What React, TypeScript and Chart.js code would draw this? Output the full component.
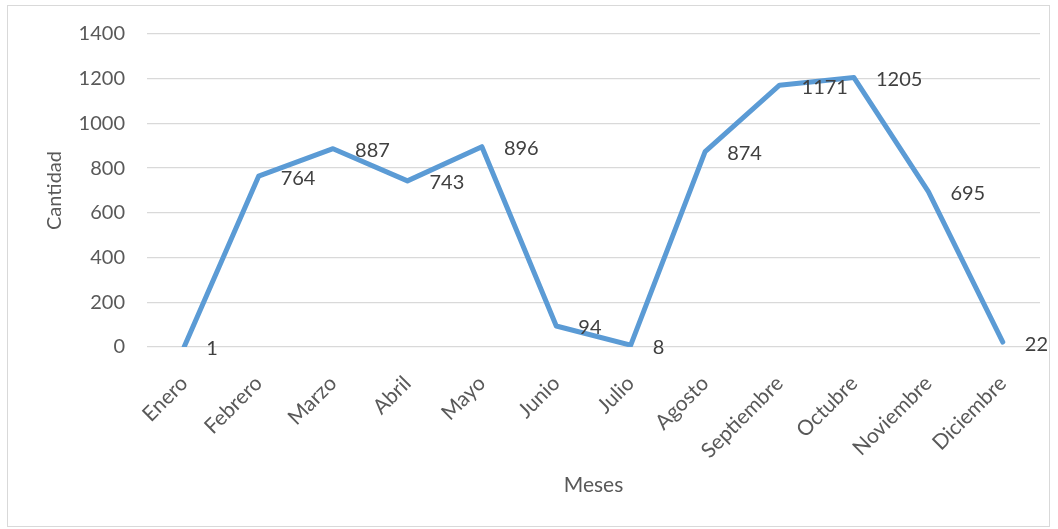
import React, { useEffect, useRef } from "react";
import { Chart, registerables } from "chart.js";

Chart.register(...registerables);

const months = [
  "Enero",
  "Febrero",
  "Marzo",
  "Abril",
  "Mayo",
  "Junio",
  "Julio",
  "Agosto",
  "Septiembre",
  "Octubre",
  "Noviembre",
  "Diciembre",
];
const values = [1, 764, 887, 743, 896, 94, 8, 874, 1171, 1205, 695, 22];
const yMin = 0;
const yMax = 1400;
const yStep = 200;
const yTitle = "Cantidad";
const xTitle = "Meses";

const FONT = "Lato, 'Open Sans', sans-serif";
const LABEL_DX = 22;

const dataLabelPlugin = {
  id: "dataLabels",
  afterDatasetsDraw(chart: any) {
    const ctx = chart.ctx;
    const meta = chart.getDatasetMeta(0);
    ctx.save();
    ctx.font = `20px ${FONT}`;
    ctx.fillStyle = "#404040";
    ctx.textAlign = "left";
    ctx.textBaseline = "middle";
    meta.data.forEach((pt: any, i: number) => {
      ctx.fillText(String(values[i]), pt.x + LABEL_DX, pt.y + 2);
    });
    ctx.restore();
  },
};

export default function App() {
  const ref = useRef<HTMLCanvasElement>(null);

  useEffect(() => {
    if (!ref.current) return;
    const chart = new Chart(ref.current, {
      type: "line",
      data: {
        labels: months,
        datasets: [
          {
            data: values,
            borderColor: "#5B9BD5",
            borderWidth: 5,
            borderCapStyle: "round",
            borderJoinStyle: "round",
            pointRadius: 0,
            tension: 0,
            fill: false,
          },
        ],
      },
      options: {
        animation: false,
        responsive: false,
        layout: { padding: { left: 0, top: 34, right: 18, bottom: 0 } },
        plugins: {
          legend: { display: false },
          tooltip: { enabled: false },
        },
        scales: {
          x: {
            offset: true,
            grid: { display: false, drawTicks: false },
            border: { display: false },
            ticks: {
              color: "#595959",
              font: { family: FONT, size: 21 },
              maxRotation: 45,
              minRotation: 45,
              padding: 24,
              autoSkip: false,
            },
            title: {
              display: true,
              text: xTitle,
              color: "#595959",
              font: { family: FONT, size: 21 },
              padding: { top: 0, bottom: 31 },
            },
            afterFit(scale: any) {
              scale.height = 182;
            },
          },
          y: {
            min: yMin,
            max: yMax,
            grid: { color: "#d9d9d9", lineWidth: 1.3, drawTicks: false },
            border: { display: false },
            ticks: {
              stepSize: yStep,
              color: "#595959",
              font: { family: FONT, size: 20 },
              padding: 22,
              callback: (v: any) => String(v),
            },
            title: {
              display: true,
              text: yTitle,
              color: "#595959",
              font: { family: FONT, size: 20 },
              padding: { top: 43, bottom: 0 },
            },
            afterFit(scale: any) {
              scale.width = 147;
            },
          },
        },
      },
      plugins: [dataLabelPlugin],
    });
    return () => chart.destroy();
  }, []);

  return (
    <div
      style={{
        position: "absolute",
        left: 0,
        top: 0,
        width: 1058,
        height: 529,
        background: "#ffffff",
      }}
    >
      <div
        style={{
          position: "absolute",
          left: 7,
          top: 5,
          width: 1043,
          height: 522,
          border: "1px solid #d9d9d9",
          boxSizing: "border-box",
        }}
      />
      <canvas
        ref={ref}
        width={1058}
        height={529}
        style={{ position: "absolute", left: 0, top: 0 }}
      />
    </div>
  );
}
